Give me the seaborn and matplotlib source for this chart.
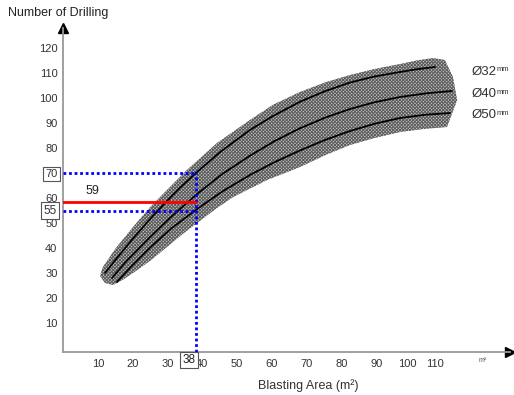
import numpy as np
import pandas as pd
import matplotlib
matplotlib.use("Agg")
import matplotlib.pyplot as plt
import seaborn as sns

# curves (x = blasting area, y = number of drill holes)
d32_x = [12, 15, 20, 25, 29.7, 33.5, 38.3, 45, 53.4, 60, 67.7, 75, 82, 89, 96.3, 101, 106.3]
d32_y = [30, 35.3, 43.8, 51.8, 58.8, 64.2, 70.4, 78.5, 87.2, 92.8, 98.5, 102.8, 106.2, 108.6, 110.4, 111.5, 112.4]
d40_x = [14, 18, 24.9, 31, 38.3, 45.5, 53.4, 60.5, 67.7, 75, 82, 89, 96.3, 104, 111.1]
d40_y = [28, 34.6, 44.4, 52.6, 61.6, 69.6, 76.9, 82.8, 87.9, 92.2, 95.6, 98.3, 100.4, 101.9, 102.8]
d50_x = [15.4, 19.5, 24.9, 31, 38.3, 45.5, 53.4, 60.5, 67.7, 75, 82, 89, 96.3, 103.5, 110.6]
d50_y = [26.4, 32.6, 40.2, 47.9, 55.6, 62.6, 69.2, 74.4, 79, 83.3, 86.8, 89.7, 92, 93.3, 94]

# shaded band outline (upper edge left->right, then lower edge right->left)
band_x = [10.9, 11.4, 15, 20, 25, 29.7, 35.4, 44, 53.4, 60, 67.7, 75, 82, 89, 96.3, 101, 105.7,
          109.1, 111.4, 112.6, 109.7,
          103, 96.3, 89, 82, 75, 67.7, 58.3, 48.6, 43.5, 38.3, 34, 29.7, 25, 20, 17, 14.3, 12, 10.6]
band_y = [30.4, 32.4, 39.8, 48.4, 56.5, 63.2, 71.2, 82, 91.2, 97.3, 102.4, 106.3, 109.2, 111.6,
          113.6, 115, 116, 115.2, 108.4, 99.2, 88.4,
          87.6, 86.4, 84, 81.2, 77.2, 72.4, 67.2, 60.4, 55.5, 50, 45.4, 40.4, 35, 30, 27.2, 25.2, 26, 28.8]

diameters = ["Ø32", "Ø40", "Ø50"]
label_y = [110.5, 101.5, 93]

area_read = 38
holes_hi = 70
holes_mid = 59
holes_lo = 55

x_tick_pos = [10, 20, 30, 39.7, 49.7, 59.7, 69.7, 79.7, 89.7, 98.5, 106.3]
x_tick_lab = ["10", "20", "30", "40", "50", "60", "70", "80", "90", "100", "110"]
y_ticks = [10, 20, 30, 40, 50, 60, 70, 80, 90, 100, 110, 120]

rows = []
for name, xs, ys in zip(diameters, [d32_x, d40_x, d50_x], [d32_y, d40_y, d50_y]):
    for x, y in zip(xs, ys):
        rows.append({"dia": name, "area": x, "holes": y})
df = pd.DataFrame(rows)

sns.set_theme(style="white")
plt.rcParams["font.family"] = ["Liberation Sans", "DejaVu Sans"]
plt.rcParams["hatch.linewidth"] = 0.7

fig = plt.figure(figsize=(5.14, 3.95), dpi=100)
ax = fig.add_axes([63 / 514, 43 / 395, 447 / 514, 324 / 395])
ax.set_xlim(0, 127.7)
ax.set_ylim(-1.6, 128)

# hatched band
ax.fill(band_x, band_y, facecolor="#c6c6c6", edgecolor="#5a5a5a", hatch="x" * 10,
        linewidth=0, zorder=1)

sns.lineplot(data=df, x="area", y="holes", units="dia", estimator=None, sort=False,
             color="black", linewidth=1.3, ax=ax, zorder=3)

# reading lines
dot = (0, (1, 1))
ax.plot([0, area_read], [holes_hi, holes_hi], color="#0000ff", lw=2, ls=dot, zorder=4)
ax.plot([0, area_read], [holes_lo, holes_lo], color="#0000ff", lw=2, ls=dot, zorder=4)
ax.plot([area_read, area_read], [-1.6, holes_hi], color="#0000ff", lw=2, ls=dot, zorder=4)
ax.plot([0, area_read], [58.5, 58.5], color="#ff0000", lw=2, zorder=5)
ax.text(8.5, 60.5, str(holes_mid), fontsize=9, color="#222222", ha="center", va="bottom")

# axes look
for s in ["top", "right"]:
    ax.spines[s].set_visible(False)
for s in ["left", "bottom"]:
    ax.spines[s].set_color("#999999")
    ax.spines[s].set_linewidth(1.3)
ax.plot(1, 0, ">", color="black", ms=7, transform=ax.transAxes, clip_on=False)
ax.plot(0, 1, "^", color="black", ms=7, transform=ax.transAxes, clip_on=False)

ax.set_xticks(x_tick_pos)
ax.set_xticklabels(x_tick_lab)
ax.set_yticks(y_ticks)
ax.set_yticklabels([str(v) for v in y_ticks])
ax.tick_params(axis="both", direction="in", length=4, width=1, color="#777777",
               labelsize=8, labelcolor="#333333")
ax.tick_params(axis="y", pad=4)
ax.tick_params(axis="x", pad=5)
ax.set_xlabel("")
ax.set_ylabel("")

box = dict(boxstyle="square,pad=0.2", fc="white", ec="#555555", lw=0.8)
for lab in ax.get_yticklabels():
    if lab.get_text() == str(holes_hi):
        lab.set_bbox(box)
ax.text(-1.9, holes_lo, str(holes_lo), fontsize=8.5, color="#333333", ha="right", va="center",
        bbox=box, clip_on=False, zorder=6)
ax.text(36, -4.8, str(area_read), fontsize=8.5, color="#222222", ha="center", va="center",
        bbox=box, clip_on=False, zorder=6)

# diameter labels
for name, y in zip(diameters, label_y):
    ax.annotate(name, (116.8, y), fontsize=9.5, color="#333333", ha="left", va="center",
                annotation_clip=False)
    ax.annotate("mm", (116.8, y), xytext=(17.5, 1.5), textcoords="offset points", fontsize=5.5,
                color="#333333", ha="left", va="center", annotation_clip=False)

ax.text(120, -5, "m²", fontsize=5, color="#555555", ha="center", va="center")
fig.text(308 / 514, 1 - 386 / 395, "Blasting Area (m²)", fontsize=9, color="#333333",
         ha="center", va="center")
fig.text(8 / 514, 1 - 13 / 395, "Number of Drilling", fontsize=9, color="#222222",
         ha="left", va="center")

fig.savefig("out.png", dpi=100)
